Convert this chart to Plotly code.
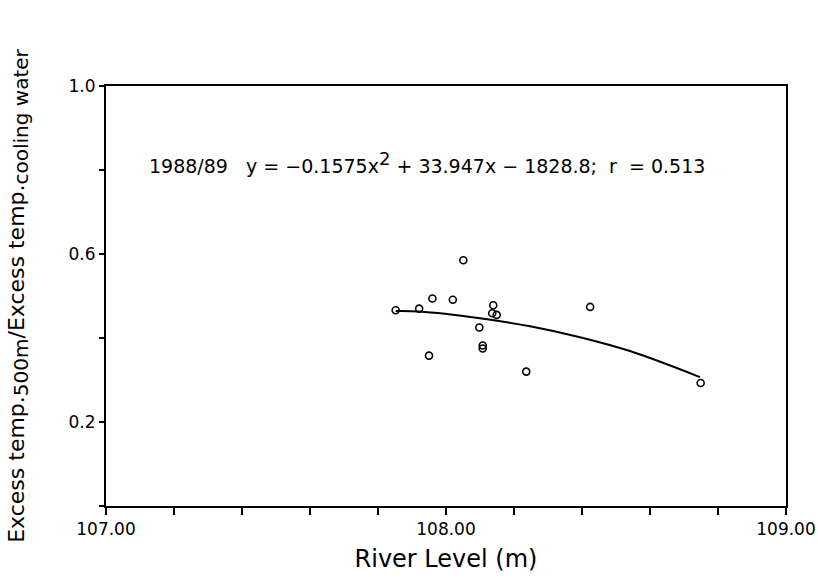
import plotly.graph_objects as go

# Observed points (river level m, ratio)
river_level = [107.852, 107.921, 107.960, 108.020, 108.051, 108.139, 108.136, 108.149,
               108.098, 108.108, 108.108, 107.950, 108.236, 108.424, 108.749]
ratio = [0.466, 0.470, 0.494, 0.491, 0.585, 0.478, 0.459, 0.455,
         0.425, 0.382, 0.375, 0.358, 0.320, 0.474, 0.293]

# Fitted curve
curve_x = [107.852, 107.921, 108.100, 108.247, 108.394, 108.541, 108.747]
curve_y = [0.464, 0.463, 0.447, 0.428, 0.402, 0.369, 0.307]

x_ticks = [107.0, 108.0, 109.0]
y_ticks = [0.2, 0.6, 1.0]

FONT = "DejaVu Sans, Liberation Sans, sans-serif"

fig = go.Figure()
fig.add_trace(go.Scatter(x=curve_x, y=curve_y, mode="lines",
                         line=dict(color="black", width=2, shape="spline"),
                         showlegend=False, hoverinfo="skip"))
fig.add_trace(go.Scatter(x=river_level, y=ratio, mode="markers",
                         marker=dict(symbol="circle-open", size=7,
                                     color="black", line=dict(width=1.6)),
                         showlegend=False))

fig.add_annotation(
    x=0.06, y=0.817, xref="paper", yref="paper", xanchor="left", yanchor="middle",
    text="1988/89&nbsp;&nbsp;&nbsp;y = \u22120.1575x<sup><span style='font-size:18px'>2</span></sup> + 33.947x \u2212 1828.8;&nbsp;&nbsp;r&nbsp;&nbsp;= 0.513",
    showarrow=False, font=dict(family=FONT, size=19, color="black"))

fig.update_layout(
    width=818, height=578,
    margin=dict(l=106, r=32, t=86, b=72),
    paper_bgcolor="white", plot_bgcolor="white",
    font=dict(family=FONT, color="black"),
    xaxis=dict(range=[107, 109], tickvals=x_ticks, tickformat=".2f",
               automargin=False,
               ticks="outside", ticklen=7, tickwidth=1.5, tickcolor="black",
               minor=dict(dtick=0.2, tick0=107, ticks="outside", ticklen=7,
                          tickwidth=1.5, tickcolor="black"),
               showline=True, linecolor="black", linewidth=2, mirror=True,
               showgrid=False, zeroline=False,
               tickfont=dict(size=17, family=FONT),
               title=dict(text="River Level (m)", font=dict(size=24, family=FONT),
                          standoff=12)),
    yaxis=dict(range=[0, 1.0], tickvals=y_ticks, tickformat=".1f",
               automargin=False,
               ticks="outside", ticklen=5, tickwidth=1.5, tickcolor="black",
               minor=dict(dtick=0.2, tick0=0, ticks="outside", ticklen=5,
                          tickwidth=1.5, tickcolor="black"),
               showline=True, linecolor="black", linewidth=2, mirror=True,
               showgrid=False, zeroline=False,
               tickfont=dict(size=17, family=FONT),
               title=dict(text="Excess temp.<sub><span style='font-size:20px'>500m</span></sub>/Excess temp.<sub><span style='font-size:20px'>cooling water</span></sub>",
                          font=dict(size=22, family=FONT), standoff=38)),
)

fig.write_html("out.html")
